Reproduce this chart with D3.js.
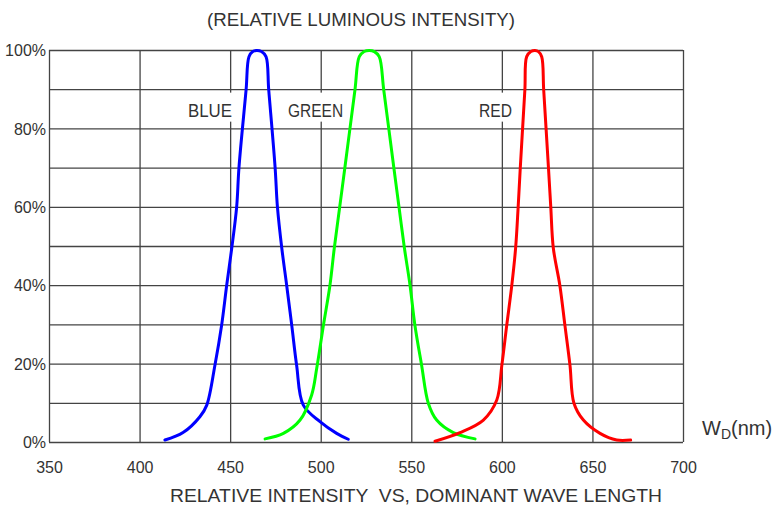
<!DOCTYPE html>
<html>
<head>
<meta charset="utf-8">
<script src="https://cdn.jsdelivr.net/npm/d3@7"></script>
<style>
  body { margin: 0; background: #fff; }
  text { font-family: "Liberation Sans", Arial, sans-serif; fill: #333; }
</style>
</head>
<body>
<div id="chart"></div>
<script>
// wavelength (nm) vs relative intensity (%)
const blueWl  = [414, 424, 433.4, 437.1, 441.6, 445.3, 448.1, 450.9, 453.6, 454.9, 458.8, 460.4, 462.5, 464.7, 467.3, 469.8, 471.3, 474.8, 476.1, 478.5, 481.2, 484, 486.7, 490.4, 499.6, 508.8, 515.2];
const blueVal = [0.5, 2.4, 6.5, 9.4, 19.6, 29.8, 40, 49.5, 60, 70.2, 89.8, 98.3, 99.6, 99.9, 99.6, 98.3, 89.8, 70.2, 60, 49.5, 40, 29.8, 19.6, 9.4, 5.2, 2.2, 0.7];

const greenWl  = [469.3, 479.4, 488.6, 495, 497.8, 501.5, 505.1, 507.5, 510.5, 513.4, 518.9, 521.3, 524, 526.7, 529.6, 532.3, 534.8, 540.3, 543.2, 546.2, 549.3, 552, 555.7, 559.4, 564, 573.2, 585.2];
const greenVal = [0.8, 2.2, 5.6, 12, 18.8, 29.8, 40, 49.5, 60, 70.2, 89.8, 98.3, 99.6, 99.9, 99.6, 98.3, 89.8, 70.2, 60, 49.5, 40, 29.8, 19.6, 9.9, 5.6, 2.4, 0.8];

const redWl  = [563.1, 576.9, 589.8, 597.2, 600, 602.7, 605.5, 607.6, 609, 610.2, 612.7, 613.7, 616, 618.3, 620.2, 622, 623.1, 625.7, 627, 628.4, 632, 634.8, 637.6, 639.8, 645, 654.2, 663.4, 671.1];
const redVal = [0.2, 2.4, 5.6, 10.7, 19.6, 29.8, 40, 49.5, 60, 70.2, 89.8, 98.3, 99.6, 99.9, 99.6, 98.3, 89.8, 70.2, 60, 49.5, 40, 29.8, 19.6, 9.9, 5.6, 2.2, 0.5, 0.5];

const xTicks = [350, 400, 450, 500, 550, 600, 650, 700];
const yTicks = [0, 10, 20, 30, 40, 50, 60, 70, 80, 90, 100];
const yLabelTicks = [0, 20, 40, 60, 80, 100];

const seriesNames = ["BLUE", "GREEN", "RED"];
const seriesColors = ["#0000ff", "#00ff00", "#ff0000"];
// where each name sits: wavelength, percent, anchor
const labelWl = [451, 482, 587.4];
const labelPct = [83, 83, 83];
const labelAnchor = ["end", "start", "start"];

const titleText = "(RELATIVE LUMINOUS INTENSITY)";
const xTitleText = "RELATIVE INTENSITY \u00a0VS, DOMINANT WAVE LENGTH";

class makeChart {

    constructor(opts) {
        Object.assign(this, opts);
        this.appendElements();
        this.update();
    }

    update() {
        this._setDimensions();
        this._setScales();
        this.render();
    }

    _setDimensions() {
        this.margin = { top: 50, right: 94, bottom: 64, left: 49 };
        this.width = 777 - this.margin.left - this.margin.right;
        this.height = 506 - this.margin.top - this.margin.bottom;
    }

    _setScales() {
        this.xScale = d3.scaleLinear()
            .range([0, this.width])
            .domain([350, 700]);

        this.yScale = d3.scaleLinear()
            .range([this.height, 0])
            .domain([0, 100]);
    }

    appendElements() {
        this.svg = d3.select(this.element).append("svg");
        this.plot = this.svg.append("g").attr("class", "chart-g");
        this.yGrid = this.plot.append("g").classed("grid y-grid", true);
        this.xGrid = this.plot.append("g").classed("grid x-grid", true);
        this.labels = this.plot.append("g").classed("labels", true);
        this.lines = this.plot.append("g").classed("lines", true);
        this.xAxis = this.plot.append("g").classed("axis x-axis", true);
        this.yAxis = this.plot.append("g").classed("axis y-axis", true);
    }

    render() {
        this.svg.attr("width", 777).attr("height", 506);
        this.plot.attr("transform", `translate(${this.margin.left},${this.margin.top})`);

        // gridlines
        this.yGrid.call(
            d3.axisLeft(this.yScale).tickValues(yTicks).tickSize(-this.width).tickFormat("")
        );
        this.xGrid
            .attr("transform", `translate(0,${this.height})`)
            .call(d3.axisBottom(this.xScale).tickValues(xTicks).tickSize(this.height).tickFormat(""));
        this.xGrid.selectAll(".tick line").attr("y2", -this.height);
        this.plot.selectAll(".grid .domain").remove();
        this.plot.selectAll(".grid line")
            .attr("stroke", "#444")
            .attr("stroke-width", 1.3);

        // tick labels
        this.xAxis
            .attr("transform", `translate(0,${this.height})`)
            .call(d3.axisBottom(this.xScale).tickValues(xTicks).tickSize(0).tickPadding(31));
        this.yAxis
            .call(d3.axisLeft(this.yScale).tickValues(yLabelTicks).tickSize(0).tickPadding(3)
                .tickFormat(d => d + "%"));
        this.plot.selectAll(".axis .domain").remove();
        this.plot.selectAll(".axis text")
            .attr("font-size", 16)
            .attr("fill", "#333")
            .style("font-family", "'Liberation Sans', Arial, sans-serif");
        this.xAxis.selectAll("text").attr("dy", 0);
        this.yAxis.selectAll("text").attr("dy", "0.36em");

        // series names with white backing that breaks the gridlines
        const lab = this.labels.selectAll("g").data(seriesNames).join("g");
        lab.append("rect")
            .attr("x", (d, i) => this.xScale(labelWl[i]) - (labelAnchor[i] === "end" ? 46 : 3))
            .attr("y", (d, i) => this.yScale(labelPct[i]) - 24)
            .attr("width", (d, i) => d.length * 11.5 + 3)
            .attr("height", 29)
            .attr("fill", "#fff");
        lab.append("text")
            .attr("x", (d, i) => this.xScale(labelWl[i]))
            .attr("y", (d, i) => this.yScale(labelPct[i]))
            .attr("text-anchor", (d, i) => labelAnchor[i])
            .attr("font-size", 19)
            .attr("textLength", d => d.length * 11)
            .attr("lengthAdjust", "spacingAndGlyphs")
            .text(d => d);

        // curves
        const line = d3.line()
            .x(d => this.xScale(d[0]))
            .y(d => this.yScale(d[1]))
            .curve(d3.curveCatmullRom.alpha(0.5));
        const series = [
            d3.zip(blueWl, blueVal),
            d3.zip(greenWl, greenVal),
            d3.zip(redWl, redVal)
        ];
        this.lines.selectAll("path").data(series).join("path")
            .attr("d", line)
            .attr("fill", "none")
            .attr("stroke", (d, i) => seriesColors[i])
            .attr("stroke-width", 3)
            .attr("stroke-linejoin", "round")
            .attr("stroke-linecap", "round");

        // titles
        this.svg.append("text")
            .attr("x", 207).attr("y", 26)
            .attr("font-size", 18)
            .attr("textLength", 308)
            .attr("lengthAdjust", "spacingAndGlyphs")
            .text(titleText);
        this.svg.append("text")
            .attr("x", 170).attr("y", 502)
            .attr("font-size", 18)
            .attr("textLength", 492)
            .attr("lengthAdjust", "spacingAndGlyphs")
            .text(xTitleText);

        const unit = this.svg.append("text")
            .attr("x", 702).attr("y", 435)
            .attr("font-size", 20);
        unit.append("tspan").text("W");
        unit.append("tspan").attr("font-size", 14).attr("dy", 4).text("D");
        unit.append("tspan").attr("dy", -4).text("(nm)");
    }
}

new makeChart({ element: document.getElementById("chart") });
</script>
</body>
</html>
